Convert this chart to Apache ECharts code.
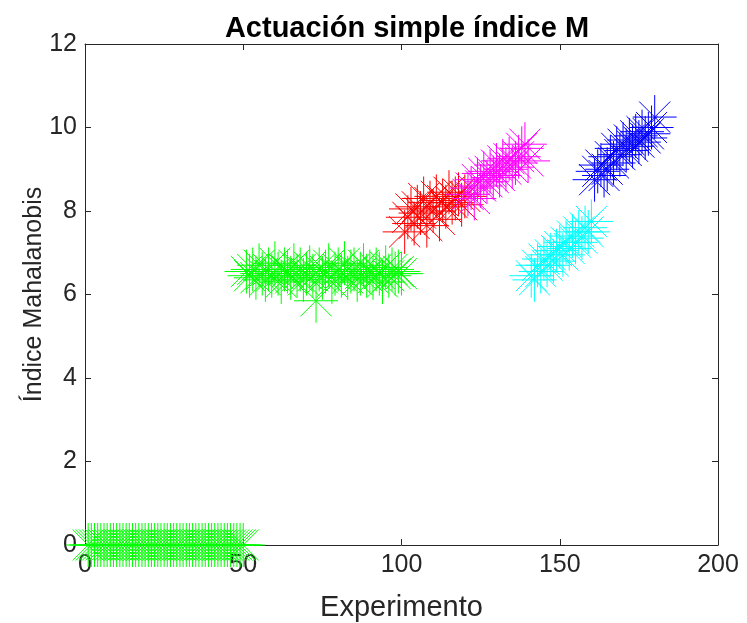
<!DOCTYPE html>
<html>
<head>
<meta charset="utf-8">
<script src="https://cdn.jsdelivr.net/npm/echarts@6/dist/echarts.min.js"></script>
<style>html,body{margin:0;padding:0;background:#fff}#c{width:747px;height:623px}</style>
</head>
<body>
<div id="c"></div>
<script>
// ---- data ----
const titleText = 'Actuación simple índice M';
const xName = 'Experimento';
const yName = 'Índice Mahalanobis';
const xTicks = [0, 50, 100, 150, 200];
const yTicks = [0, 2, 4, 6, 8, 10, 12];

const greenAX = [1,2,3,4,5,6,7,8,9,10,11,12,13,14,15,16,17,18,19,20,21,22,23,24,25,26,27,28,29,30,31,32,33,34,35,36,37,38,39,40,41,42,43,44,45,46,47,48,49,50];
const greenAY = [0,0,0,0,0,0,0,0,0,0,0,0,0,0,0,0,0,0,0,0,0,0,0,0,0,0,0,0,0,0,0,0,0,0,0,0,0,0,0,0,0,0,0,0,0,0,0,0,0,0];

const greenBX = [51,52,53,54,55,56,57,58,59,60,61,62,63,64,65,66,67,68,69,70,71,72,73,74,75,76,77,78,79,80,81,82,83,84,85,86,87,88,89,90,91,92,93,94,95,96,97,98,99,100];
const greenBY = [6.55,6.45,6.6,6.4,6.7,6.5,6.35,6.6,6.45,6.75,
                 6.5,6.3,6.6,6.55,6.4,6.7,6.45,6.6,6.35,6.5,
                 6.65,6.45,5.85,6.6,6.4,6.55,6.7,6.3,6.5,6.6,
                 6.45,6.75,6.4,6.55,6.6,6.35,6.5,6.7,6.45,6.55,
                 6.4,6.6,6.5,6.3,6.65,6.45,6.6,6.5,6.55,6.5];

const redX = [101,102,103,104,105,106,107,108,109,110,111,112,113,114,115,116,117,118,119,120];
const redY = [7.5,7.85,8.05,7.7,8.1,7.95,8.3,7.65,8.2,8.0,8.35,7.8,8.25,8.1,8.45,8.2,8.3,8.4,8.15,8.35];

const magX = [121,122,123,124,125,126,127,128,129,130,131,132,133,134,135,136,137,138,139,140];
const magY = [8.4,8.55,8.3,8.75,8.6,8.9,8.7,8.95,8.8,9.1,8.85,9.2,9.0,9.25,9.05,9.15,9.3,9.5,9.6,9.2];

const cyanX = [141,142,143,144,145,146,147,148,149,150,151,152,153,154,155,156,157,158,159,160];
const cyanY = [6.45,6.35,6.7,6.55,6.85,6.7,6.95,6.8,7.05,7.15,6.95,7.25,7.1,7.4,7.25,7.5,7.35,7.6,7.5,7.75];

const blueX = [161,162,163,164,165,166,167,168,169,170,171,172,173,174,175,176,177,178,179,180];
const blueY = [8.75,8.95,9.1,8.85,9.0,9.3,9.15,9.5,9.35,9.6,9.45,9.7,9.55,9.8,9.65,9.9,9.75,9.85,10.0,10.25];

// ---- chart ----
const star = 'path://M0,-1L0,1M-1,0L1,0M-0.7071,-0.7071L0.7071,0.7071M-0.7071,0.7071L0.7071,-0.7071';
const FONT = '"Liberation Sans", Arial, Helvetica, sans-serif';
const AX = '#262626';

function pairs(xs, ys) { return xs.map((x, i) => [x, ys[i]]); }
function mk(name, xs, ys, color) {
  return {
    name, type: 'scatter', data: pairs(xs, ys),
    symbol: star, symbolSize: 44, symbolKeepAspect: true,
    itemStyle: { color: 'rgba(0,0,0,0)', borderColor: color, borderWidth: 1, opacity: 1 },
    emphasis: { disabled: true },
    animation: false, silent: true
  };
}

const chart = echarts.init(document.getElementById('c'), null, { renderer: 'canvas' });
const tickStyle = { show: true, inside: true, length: 6, lineStyle: { color: AX, width: 1 } };
chart.setOption({
  backgroundColor: '#fff',
  animation: false,
  title: {
    text: titleText, left: 402, top: 9, textAlign: 'center',
    textStyle: { fontFamily: FONT, fontWeight: 'bold', fontSize: 29, color: '#000' }
  },
  grid: { left: 85, right: 29, top: 44, bottom: 78, containLabel: false, outerBoundsMode: 'none' },
  xAxis: [{
    type: 'value', min: xTicks[0], max: xTicks[xTicks.length - 1], interval: 50,
    position: 'bottom',
    axisLine: { show: true, onZero: false, lineStyle: { color: AX, width: 1 } },
    axisTick: tickStyle, splitLine: { show: false },
    axisLabel: { fontFamily: FONT, fontSize: 25, color: AX, margin: 8 },
    name: xName, nameLocation: 'middle', nameGap: 48,
    nameTextStyle: { fontFamily: FONT, fontSize: 29, color: AX }
  }, {
    type: 'value', min: xTicks[0], max: xTicks[xTicks.length - 1], interval: 50,
    position: 'top',
    axisLine: { show: true, onZero: false, lineStyle: { color: AX, width: 1 } },
    axisTick: tickStyle, splitLine: { show: false }, axisLabel: { show: false }
  }],
  yAxis: [{
    type: 'value', min: yTicks[0], max: yTicks[yTicks.length - 1], interval: 2,
    position: 'left',
    axisLine: { show: true, onZero: false, lineStyle: { color: AX, width: 1 } },
    axisTick: tickStyle, splitLine: { show: false },
    axisLabel: { fontFamily: FONT, fontSize: 25, color: AX, margin: 8 },
    name: yName, nameLocation: 'middle', nameGap: 38, nameMoveOverlap: false,
    nameTextStyle: { fontFamily: FONT, fontSize: 25, color: AX }
  }, {
    type: 'value', min: yTicks[0], max: yTicks[yTicks.length - 1], interval: 2,
    position: 'right',
    axisLine: { show: true, onZero: false, lineStyle: { color: AX, width: 1 } },
    axisTick: tickStyle, splitLine: { show: false }, axisLabel: { show: false }
  }],
  series: [
    mk('g1', greenAX, greenAY, '#00ff00'),
    mk('g2', greenBX, greenBY, '#00ff00'),
    mk('r', redX, redY, '#ff0000'),
    mk('m', magX, magY, '#ff00ff'),
    mk('c', cyanX, cyanY, '#00ffff'),
    mk('b', blueX, blueY, '#0000ff')
  ]
});
</script>
</body>
</html>
